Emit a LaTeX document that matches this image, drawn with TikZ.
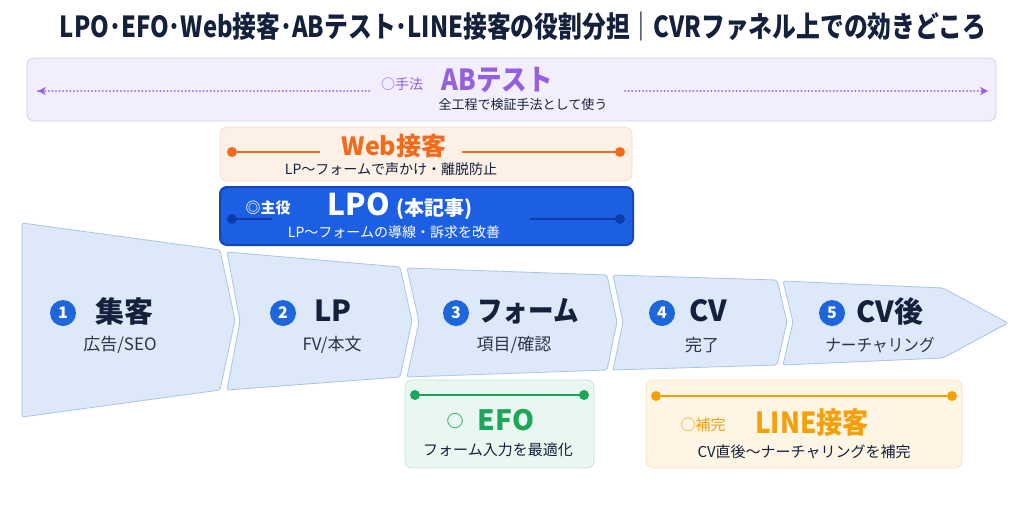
\documentclass[tikz,border=0pt]{standalone}
\usepackage{fontspec}
\setmainfont{Noto Sans CJK JP}
\usetikzlibrary{arrows.meta,calc}

\definecolor{navy}{HTML}{14213D}
\definecolor{abpurple}{HTML}{9460E0}
\definecolor{abfill}{HTML}{F3EEFC}
\definecolor{abedge}{HTML}{D8CAF2}
\definecolor{weborange}{HTML}{F26A1B}
\definecolor{webfill}{HTML}{FDF0E6}
\definecolor{webedge}{HTML}{F7DCC8}
\definecolor{lpoblue}{HTML}{1D5FE3}
\definecolor{lpoedge}{HTML}{1446B8}
\definecolor{lpodark}{HTML}{0C3CAA}
\definecolor{funfill}{HTML}{DDE8F8}
\definecolor{funedge}{HTML}{A9C3EA}
\definecolor{numblue}{HTML}{1E66DB}
\definecolor{efogreen}{HTML}{1DA55A}
\definecolor{efofill}{HTML}{E8F7EF}
\definecolor{efoedge}{HTML}{C0E7D1}
\definecolor{lineorange}{HTML}{F5A00A}
\definecolor{linefill}{HTML}{FEF5E4}
\definecolor{lineedge}{HTML}{F8E4BE}
\definecolor{subgray}{HTML}{2B3445}

\newcommand{\fsz}[1]{\fontsize{#1}{#1}\selectfont}

\begin{document}
\begin{tikzpicture}[x=1pt, y=-1pt, >=Stealth,
  box/.style={draw, rounded corners=7pt, line width=0.8pt, inner sep=0pt},
  seg/.style={fill=funfill, draw=funedge, line width=0.8pt, rounded corners=2pt},
  num/.style={circle, fill=numblue, text=white, inner sep=0pt, minimum size=26pt, font=\bfseries\fsz{16}},
  stage/.style={font=\bfseries\fsz{29}, text=navy},
  sub/.style={font=\fsz{17}, text=subgray},
  bar/.style={line width=2.4pt},
  dots/.style={abpurple, line width=2pt, line cap=round, dash pattern=on 0pt off 3.6pt}]
  \useasboundingbox (0,0) rectangle (1024,512);
  \fill[white] (0,0) rectangle (1024,512);
  % Title
  \node[font=\bfseries\fsz{29}, text=navy, xscale=0.82] (title) at (523,26)
    {LPO･EFO･Web接客･ABテスト･LINE接客の役割分担｜CVRファネル上での効きどころ};
  % AB test (whole funnel)
  \node[box, fill=abfill, draw=abedge, minimum width=969pt, minimum height=63pt] (ab) at (511.5,89.5) {};
  \coordinate (abL1) at (38,91);
  \coordinate (abL2) at (372,91);
  \coordinate (abR1) at (625,91);
  \coordinate (abR2) at (988,91);
  \draw[dots] (abL1) -- (abL2);
  \draw[dots] (abR1) -- (abR2);
  \draw[abpurple, line width=1pt, -{Stealth[length=8pt,width=8pt]}] ($(abL1)+(6,0)$) -- (abL1);
  \draw[abpurple, line width=1pt, -{Stealth[length=8pt,width=8pt]}] ($(abR2)+(-6,0)$) -- (abR2);
  \node[font=\fsz{14}, text=abpurple] (abtag) at (402,84) {○手法};
  \node[font=\bfseries\fsz{29}, text=abpurple, xscale=0.88] (abname) at (497,80) {ABテスト};
  \node[font=\fsz{13}, text=navy] (absub) at (523,105) {全工程で検証手法として使う};
  % Web接客
  \node[box, fill=webfill, draw=webedge, minimum width=412pt, minimum height=54pt] (web) at (426,154) {};
  \coordinate (webA) at (232,152);
  \coordinate (webB) at (320,152);
  \coordinate (webC) at (462,152);
  \coordinate (webD) at (620,152);
  \draw[bar, weborange] (webA) -- (webB);
  \draw[bar, weborange] (webC) -- (webD);
  \fill[weborange] (webA) circle (5) (webD) circle (5);
  \node[font=\bfseries\fsz{25}, text=weborange] (webname) at (394,146) {Web接客};
  \node[font=\fsz{14}, text=navy] (websub) at (391,169) {LP～フォームで声かけ・離脱防止};
  % LPO (main)
  \node[box, fill=lpoblue, draw=lpoedge, line width=2pt, minimum width=413pt, minimum height=58pt] (lpo) at (426.5,216) {};
  \coordinate (lpoA) at (232,219);
  \coordinate (lpoB) at (272,219);
  \coordinate (lpoC) at (530,219);
  \coordinate (lpoD) at (620,219);
  \draw[bar, lpodark] (lpoA) -- (lpoB);
  \draw[bar, lpodark] (lpoC) -- (lpoD);
  \fill[lpodark] (lpoA) circle (5) (lpoD) circle (5);
  \node[font=\bfseries\fsz{15}, text=white] (lpotag) at (268,208) {◎主役};
  \node[text=white] (lponame) at (400,206) {\bfseries\fsz{30}LPO \fsz{20}(本記事)};
  \node[font=\fsz{14}, text=white] (lposub) at (394,232) {LP～フォームの導線・訴求を改善};
  % Funnel segments
  \path[seg] (22,223) -- (220,250) -- (235,320) -- (220,390) -- (22,417) -- cycle;
  \path[seg] (227,252) -- (400,267) -- (412,321) -- (400,377) -- (227,390) -- (240,321) -- cycle;
  \path[seg] (407,268) -- (607,275) -- (617,322) -- (607,370) -- (407,377) -- (419,322) -- cycle;
  \path[seg] (613,275) -- (777,280) -- (787,322) -- (777,365) -- (613,370) -- (623,322) -- cycle;
  \path[seg] (783,281) -- (943,288) -- (1008,323) -- (943,358) -- (783,365) -- (793,322) -- cycle;
  % Stages
  \node[num] (n1) at (63,313) {1};
  \node[stage] (s1) at (124,311) {集客};
  \node[sub] (t1) at (120,345) {広告/SEO};
  \node[num] (n2) at (283,313) {2};
  \node[stage] (s2) at (333,311) {LP};
  \node[sub] (t2) at (332,345) {FV/本文};
  \node[num] (n3) at (456,313) {3};
  \node[stage, xscale=0.88] (s3) at (528,311) {フォーム};
  \node[sub] (t3) at (514,345) {項目/確認};
  \node[num] (n4) at (662,313) {4};
  \node[stage] (s4) at (708,311) {CV};
  \node[sub] (t4) at (702,345) {完了};
  \node[num] (n5) at (832,313) {5};
  \node[stage] (s5) at (890,311) {CV後};
  \node[sub, xscale=0.92] (t5) at (880,345) {ナーチャリング};
  % EFO
  \node[box, fill=efofill, draw=efoedge, minimum width=189pt, minimum height=88pt] (efo) at (499.5,424) {};
  \coordinate (efoA) at (415,395);
  \coordinate (efoB) at (584,395);
  \draw[bar, efogreen] (efoA) -- (efoB);
  \fill[efogreen] (efoA) circle (5) (efoB) circle (5);
  \node[font=\bfseries\fsz{17}, text=efogreen] (efotag) at (455,421) {○};
  \node[font=\bfseries\fsz{28}, text=efogreen] (efoname) at (506,420) {EFO};
  \node[font=\fsz{15}, text=navy] (efosub) at (498,450) {フォーム入力を最適化};
  % LINE接客
  \node[box, fill=linefill, draw=lineedge, minimum width=316pt, minimum height=88pt] (line) at (804,424) {};
  \coordinate (lineA) at (656,396);
  \coordinate (lineB) at (952,396);
  \draw[bar, lineorange] (lineA) -- (lineB);
  \fill[lineorange] (lineA) circle (5) (lineB) circle (5);
  \node[font=\fsz{15}, text=lineorange] (linetag) at (703,425) {○補完};
  \node[font=\bfseries\fsz{29}, text=lineorange, xscale=0.9] (linename) at (812,423) {LINE接客};
  \node[font=\fsz{15}, text=navy] (linesub) at (804,452) {CV直後～ナーチャリングを補完};
\end{tikzpicture}
\end{document}
